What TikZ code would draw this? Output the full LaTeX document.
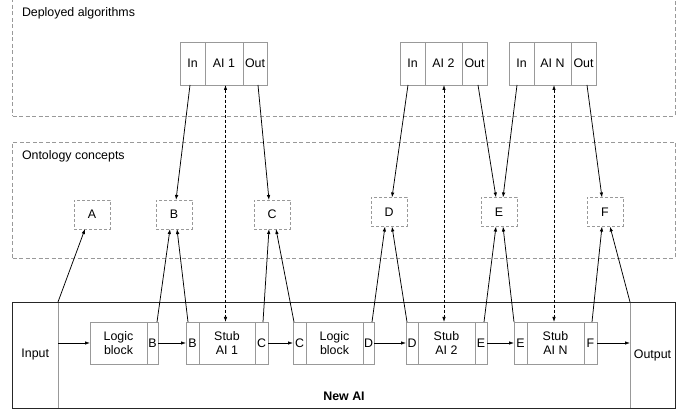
\documentclass[tikz,border=0pt]{standalone}
\usepackage{fontspec}
\setmainfont{Liberation Sans}
\usetikzlibrary{arrows.meta,calc}
\definecolor{boxgray}{HTML}{999999}
\begin{document}
\begin{tikzpicture}[x=1pt,y=-1pt,
  every node/.style={font=\fontsize{12.4}{14}\selectfont, inner sep=0pt, outer sep=0pt},
  area/.style={draw=boxgray, dash pattern=on 4pt off 2.5pt, line width=0.8pt, anchor=north west},
  concept/.style={draw=boxgray, dash pattern=on 3pt off 2pt, line width=0.8pt, minimum width=36pt, minimum height=29pt},
  aicell/.style={draw=boxgray, line width=0.8pt, minimum height=43pt, anchor=north west},
  blk/.style={draw=boxgray, line width=0.8pt, minimum height=42pt, anchor=north west, align=center},
  link/.style={line width=0.75pt, -{Latex[length=5pt,width=3.5pt]}},
  stublink/.style={line width=0.75pt, dash pattern=on 3pt off 2pt, {Latex[length=5pt,width=3.5pt]}-{Latex[length=5pt,width=3.5pt]}},
]
\useasboundingbox (0,0) rectangle (689,411);
\clip (0,0) rectangle (689,411);

% areas
\node[area, minimum width=662.5pt, minimum height=121pt] (deployed) at (12.5,-5) {};
\node[anchor=west] (deptitle) at (22,13) {Deployed algorithms};
\node[area, minimum width=662.5pt, minimum height=116pt] (onto) at (12.5,142) {};
\node[anchor=west] (ontotitle) at (22,156) {Ontology concepts};

% deployed AIs
\node[aicell, minimum width=25pt] (ai1in) at (180,42) {In};
\node[aicell, minimum width=38pt] (ai1m) at (205,42) {AI 1};
\node[aicell, minimum width=24pt] (ai1out) at (243,42) {Out};
\node[aicell, minimum width=25pt] (ai2in) at (400,42) {In};
\node[aicell, minimum width=37pt] (ai2m) at (425,42) {AI 2};
\node[aicell, minimum width=25pt] (ai2out) at (462,42) {Out};
\node[aicell, minimum width=25pt] (aiNin) at (509,42) {In};
\node[aicell, minimum width=37pt] (aiNm) at (534,42) {AI N};
\node[aicell, minimum width=25pt] (aiNout) at (571,42) {Out};

% concepts
\node[concept] (A) at (92,214.5) {A};
\node[concept] (B) at (174,214.5) {B};
\node[concept] (C) at (272,214.5) {C};
\node[concept] (D) at (389,212) {D};
\node[concept] (E) at (499,212) {E};
\node[concept] (F) at (605,212) {F};

% New AI
\node[draw=boxgray, line width=0.8pt, anchor=north west, minimum width=45.5pt, minimum height=106pt] (input) at (12.5,302) {Input};
\node[draw=boxgray, line width=0.8pt, anchor=north west, minimum width=45pt, minimum height=106pt] (output) at (630,302) {Output};
\node[draw=black!85, line width=0.9pt, anchor=north west, minimum width=662.5pt, minimum height=106pt] (newai) at (12.5,302) {};
\node[font=\fontsize{12.4}{14}\selectfont\bfseries] (newailabel) at (344,396) {New AI};

\node[blk, minimum width=57pt] (lb1m) at (90,322) {Logic\\block};
\node[blk, minimum width=11pt] (lb1b) at (147,322) {B};

\node[blk, minimum width=13pt] (s1b) at (186,322) {B};
\node[blk, minimum width=56pt] (s1m) at (199,322) {Stub\\AI 1};
\node[blk, minimum width=13pt] (s1c) at (255,322) {C};

\node[blk, minimum width=13pt] (lb2c) at (293,322) {C};
\node[blk, minimum width=57pt] (lb2m) at (306,322) {Logic\\block};
\node[blk, minimum width=11pt] (lb2d) at (363,322) {D};

\node[blk, minimum width=12pt] (s2d) at (406,322) {D};
\node[blk, minimum width=57pt] (s2m) at (418,322) {Stub\\AI 2};
\node[blk, minimum width=12pt] (s2e) at (475,322) {E};

\node[blk, minimum width=13pt] (sNe) at (514,322) {E};
\node[blk, minimum width=57pt] (sNm) at (527,322) {Stub\\AI N};
\node[blk, minimum width=13pt] (sNf) at (584,322) {F};

% horizontal flow
\draw[link] (input.east |- lb1m.west) -- (lb1m.west);
\draw[link] (lb1b.east) -- (s1b.west);
\draw[link] (s1c.east) -- (lb2c.west);
\draw[link] (lb2d.east) -- (s2d.west);
\draw[link] (s2e.east) -- (sNe.west);
\draw[link] (sNf.east) -- (output.west |- sNf.east);

% upward links to concepts
\draw[link] (input.north east) -- ([xshift=-7pt]A.south);
\draw[link] ([xshift=-1pt]lb1b.north east) -- ([xshift=-4pt]B.south);
\draw[link] ([xshift=2pt]s1b.north west) -- ([xshift=3pt]B.south);
\draw[link] ([xshift=1.5pt]s1c.north) -- ([xshift=-3pt]C.south);
\draw[link] ([xshift=1pt]lb2c.north west) -- ([xshift=4pt]C.south);
\draw[link] ([xshift=-2pt]lb2d.north east) -- ([xshift=-4pt]D.south);
\draw[link] ([xshift=1pt]s2d.north west) -- ([xshift=3pt]D.south);
\draw[link] ([xshift=-3pt]s2e.north east) -- ([xshift=-3pt]E.south);
\draw[link] (sNe.north west) -- ([xshift=4pt]E.south);
\draw[link] ([xshift=1.5pt]sNf.north) -- ([xshift=-3pt]F.south);
\draw[link] (output.north west) -- ([xshift=5pt]F.south);

% downward links from deployed AIs
\draw[link] ([xshift=-2.5pt]ai1in.south) -- ([xshift=2pt]B.north);
\draw[link] ([xshift=3pt]ai1out.south) -- ([xshift=-3pt]C.north);
\draw[link] ([xshift=-4.5pt]ai2in.south) -- ([xshift=3pt]D.north);
\draw[link] ([xshift=3.5pt]ai2out.south) -- ([xshift=-3pt]E.north);
\draw[link] ([xshift=-4.5pt]aiNin.south) -- ([xshift=4pt]E.north);
\draw[link] ([xshift=3.5pt]aiNout.south) -- ([xshift=-3pt]F.north);

% stub links
\draw[stublink] ([xshift=1.5pt]ai1m.south) -- ([xshift=-1.5pt]s1m.north);
\draw[stublink] ([xshift=0.5pt]ai2m.south) -- ([xshift=-2.5pt]s2m.north);
\draw[stublink] ([xshift=1.5pt]aiNm.south) -- ([xshift=-1.5pt]sNm.north);
\end{tikzpicture}
\end{document}
